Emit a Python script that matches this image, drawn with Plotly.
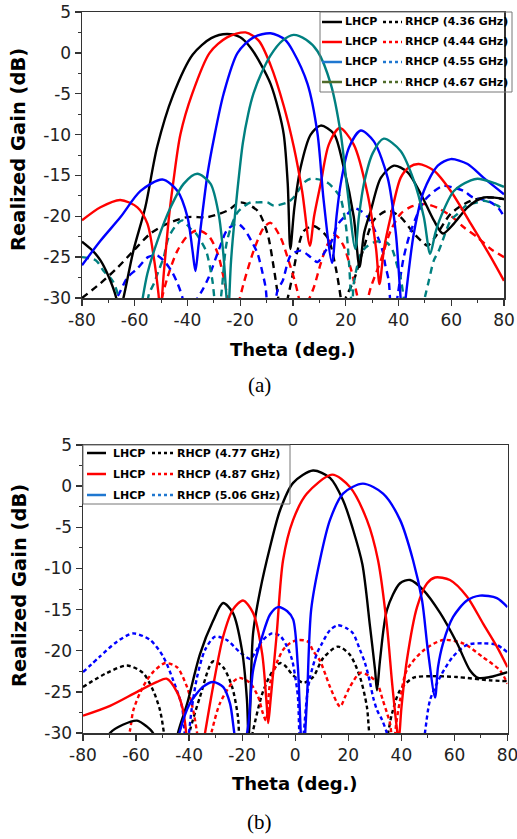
import plotly.graph_objects as go

W, H = 517, 839

# ---------------- (a) data ----------------
th_a_l436 = [-80, -76, -73, -70, -67, -66, -64.3, -60.5, -56, -51.5, -45.5, -38, -31, -25, -20, -16, -12, -8.5, -5.5, -3.5, -2, -1,
             0.5, 2.9, 6.7, 10.5, 15.5, 19.2, 23, 25.2, 27, 29.5, 33.3, 38.3, 43.4, 48.5, 53.4, 56.8, 61, 66.2, 72.3, 80]
g_a_l436 = [-23.1, -24.2, -25.4, -27.3, -30, -32, -30, -24.2, -18.9, -11.5, -5.2, -0.2, 1.8, 2.3, 1.9, 0.6, -1.5, -3.8, -7, -10, -16, -24,
            -19, -14, -10, -8.9, -9.9, -14, -20, -26.2, -22, -19.3, -15.3, -13.8, -14.6, -17.3, -20.5, -22.1, -20.9, -18.9, -17.7, -17.9]

th_a_l444 = [-80, -73, -65.5, -59, -55.2, -52.8, -51, -50.3, -49, -47, -45.3, -42.7, -38.2, -31.6, -25, -18, -13, -8.5, -3.5, 0.3, 3.5, 6.4,
             8, 10.5, 13.6, 17.7, 23, 28.3, 31.5, 32.8, 34.5, 37, 40.8, 44, 47.7, 53.4, 59.8, 67.4, 75, 80]
g_a_l444 = [-20.5, -18.9, -18.0, -18.9, -20.9, -25, -29.5, -32, -27, -20, -15.6, -10, -5, 0, 1.9, 2.5, 1.5, -1.5, -6.5, -11.5, -17, -23.6,
            -20, -16, -11.2, -9.2, -11.2, -17.3, -24, -28.3, -24, -20.1, -15.3, -14, -13.6, -14.4, -16.9, -20.9, -25, -27.9]

th_a_l455 = [-80, -73, -65.4, -57.8, -49.5, -43.8, -40, -38.1, -37, -35.8, -32.4, -30, -26.3, -21, -15, -8.5, -3, 0, 5.5, 9.3, 11.6, 14.8,
             16.5, 18.1, 21.2, 25.7, 30.6, 35.9, 39, 40.8, 41.7, 42.7, 45.8, 49.6, 54.9, 59.8, 66.2, 72.3, 80]
g_a_l455 = [-26, -23, -20.1, -16.9, -15.5, -16.9, -20.1, -24.2, -26.7, -23.5, -14.8, -10.5, -5, 0, 1.9, 2.4, 1.6, 0.2, -3.8, -9.9, -18, -25.7,
            -20, -16, -11.6, -9.5, -10.8, -15.3, -22.1, -30, -33, -30, -22.1, -16.9, -13.8, -13, -13.6, -15.3, -17.3]

th_a_l467 = [-57.5, -55.2, -51.4, -46.4, -41.4, -36.3, -31.3, -28.2, -26.3, -25.2, -24.6, -23.6, -22.9, -21.1, -19, -17, -15, -12, -8.5, -4, 0.2,
             5, 9.3, 14.3, 18.1, 20.7, 23.6, 25, 26.9, 30.2, 34.4, 40.8, 45.8, 49.6, 52, 54, 56, 61, 67.4, 70, 76.1, 80]
g_a_l467 = [-31, -27, -23, -18.9, -16, -14.8, -16, -19.7, -25, -30, -32, -26, -23, -16.9, -11, -7.5, -5, -2.5, -0.3, 1.5, 2.2,
            1.6, 0.2, -3.8, -9.9, -17, -24, -20, -16, -12.3, -10.5, -12, -15.6, -20.1, -24.6, -22, -20.1, -16.9, -15.6, -15.4, -15.9, -16.4]

th_a_r436 = [-80, -73, -66.6, -60.4, -54, -47.6, -40, -32.4, -24.8, -20, -13.5, -9.7, -7.3, -5.8, -4.2, -2, 0, 1.5, 4.1, 7.9, 13.1, 16.2,
             18.1, 18.8, 20, 23, 26.9, 30.6, 35.9, 40.8, 45.8, 49.6, 51, 54, 59.8, 67.4, 75, 80]
g_a_r436 = [-30, -28.2, -26.3, -24.2, -22.1, -20.9, -20.1, -20.1, -19.3, -18.3, -19.3, -22.1, -26.3, -29.5, -33, -30, -27, -24.5, -21.8, -21.2, -22.6, -26.3,
            -30, -32, -30, -27.9, -23.8, -20.5, -19.3, -20.1, -22.1, -23.3, -23.6, -22.5, -19.7, -18.1, -17.7, -17.9]

th_a_r444 = [-52, -47.6, -43.8, -40, -36.2, -32, -28.6, -26.3, -24.8, -23.5, -21, -18.7, -14.9, -11.1, -8.5, -4.7, -2.1, 0.3, 2.2, 3, 5, 7.9,
             10.5, 13, 16, 19, 22, 24.5, 25.5, 27.5, 29.5, 33.3, 37, 40.8, 45, 50, 55, 60, 65, 70, 75, 80]
g_a_r444 = [-33, -27.5, -24.2, -22.4, -21.7, -22.4, -24.5, -27.5, -30, -33, -31, -28.2, -24.2, -21.4, -20.8, -22.6, -25, -27.5, -30, -33, -31, -28.7,
            -25.8, -23.5, -22.3, -23.5, -26.5, -30, -32, -31, -28.7, -25.4, -21.8, -19.7, -18.8, -18.5, -19, -20, -21.4, -22.6, -24, -25]

th_a_r455 = [-69, -66, -62.8, -59, -55, -51.5, -48.3, -45.7, -43.8, -41.9, -41, -38, -34.3, -32, -28, -24.8, -21, -18.7, -15.3, -13.4, -11.5, -10.4,
             -9, -7, -5.8, -3.9, -0.9, 2.9, 6.7, 9.3, 12.4, 14.3, 17, 20.7, 23, 25.5, 28.3, 32.2, 34.1, 35, 36.3, 37.5,
             39, 42, 45, 50, 56.8, 61, 64.8, 68.2, 73.8, 77.6, 80]
g_a_r455 = [-31, -29.5, -27.5, -26.4, -25, -24.8, -25.7, -26.9, -28.2, -30, -33, -31, -29, -27.5, -24, -21.6, -20.9, -21.5, -23.3, -24.6, -27, -28.7,
            -33, -31, -29, -27.9, -24.8, -24.2, -25, -25.6, -24.2, -23.3, -21, -19.7, -19, -19.3, -20.1, -22.6, -24.4, -26, -27.9, -33,
            -31, -25, -21.5, -18, -16.3, -16.5, -16.9, -17.7, -18.1, -18.9, -20]

th_a_r467 = [-80, -74.7, -71.8, -68.4, -66, -64.5, -60, -56, -54.6, -52.7, -51, -49, -47.2, -43.8, -41.9, -38.9, -37, -33, -32, -30.5, -29.5, -28.5,
             -27, -25, -21, -16, -13.4, -9.7, -7.3, -2.1, 0.2, 4.1, 6.7, 11.2, 13.6, 17, 18, 20, 21.3, 22, 22.5, 23, 25.7, 27.6,
             30.6, 34, 35.9, 37.8, 39.7, 40.8, 42, 43, 46, 48.5, 50.3, 51.5, 53.4, 55.3, 59.8, 62.4, 66, 70, 72.3, 77.6, 80]
g_a_r467 = [-25, -25.4, -26.7, -27.9, -30, -33, -34, -32, -29.5, -28.2, -26.7, -25, -22.6, -20.9, -20.5, -21.5, -22, -24.2, -25.4, -28, -31, -33,
            -29, -23, -19.5, -18.3, -18.3, -18.3, -18.7, -18.3, -17.7, -15.9, -15.4, -15.6, -16, -17.2, -17.7, -21, -26, -30, -32, -28.3, -24.6, -23.8,
            -23.2, -23, -23.3, -24.2, -26.3, -27.5, -30, -32, -34, -32, -29.5, -27.9, -25.4, -24.2, -20.5, -19.7, -18.6, -18.3, -18.1, -18.7, -19.3]

# ---------------- (b) data ----------------
th_b_l477 = [-72, -69.8, -65, -59.6, -56, -53.6, -52.5, -50, -46, -44.2, -40.8, -35.9, -31, -27.2, -23.5, -20.1, -18.2, -17.6, -17, -15.9, -13.3,
             -9.5, -5.7, -0.8, 6.7, 13.1, 18, 21.8, 25.3, 28.2, 30.1, 30.8, 32, 34.6, 39.5, 43.3, 48.2, 54.6, 61, 65.9, 68.9, 73.4, 80]
g_b_l477 = [-32, -30, -29, -28.5, -29.2, -30, -31.5, -35, -34, -30, -26.5, -20.4, -16.4, -14.2, -15.4, -19.9, -26, -31, -27, -17.9, -12.8,
            -7.4, -2.9, 0.4, 1.9, 1, -1.7, -5.3, -9.5, -17.1, -22.4, -24.8, -21, -15, -11.8, -11.4, -12.6, -15.4, -19.1, -22.4, -23.3, -23.2, -22.6]

th_b_l487 = [-80, -69.8, -59.6, -52.1, -48.5, -44.6, -42.3, -41.2, -40.5, -37, -34, -31, -27.2, -23.5, -19.7, -15.9, -12.5, -10.8, -10.2, -9.3,
             -7, -4.6, -0.8, 4.4, 13.9, 20.6, 27, 31.2, 34.6, 36.5, 38.4, 39, 40, 42.1, 45.9, 49.7, 52.7, 58.3, 64.7, 70.8, 76, 80]
g_b_l487 = [-27.9, -26.7, -25, -23.8, -23.4, -25, -27.2, -29.7, -32, -36, -30, -24.4, -18.3, -15, -13.9, -15.4, -20.3, -26.4, -28.8, -26,
            -18, -9, -4.1, -0.9, 1.4, -0.1, -4.1, -9, -17.1, -23.9, -29.7, -31, -27, -21.1, -14.7, -11.8, -11.1, -11.4, -13.4, -16.7, -19.5, -22]

th_b_l506 = [-46, -43.4, -39.7, -34.8, -31, -27.2, -24.6, -23.1, -21, -17.8, -15.9, -12.5, -9.5, -6.5, -3, -0.8, 1, 2.8, 4.4, 6, 9.3, 13.1,
             18, 25.5, 33.1, 39.5, 44.4, 47.8, 50, 52.7, 53.8, 55.7, 59.5, 64.7, 69.6, 76, 80]
g_b_l506 = [-34, -29.7, -26.4, -24.4, -23.8, -24.4, -26.4, -29.7, -34, -29.3, -22.4, -18.3, -15.6, -14.7, -15.2, -16.2, -22, -34, -26, -15, -9, -4.1,
            -0.9, 0.3, -0.9, -4.1, -9, -13.9, -20, -25.7, -22, -19.1, -15.9, -13.9, -13.3, -13.6, -14.7]

th_b_r477 = [-80, -71, -63.4, -57.4, -53.6, -51, -49.5, -48.5, -42, -39.7, -35.9, -31, -27.2, -23.8, -21.6, -20.5, -18, -15.9, -12.2, -8.4,
             -5.7, -3.9, -0.8, 3, 6.7, 10.5, 16.1, 20.6, 24.4, 27, 27.8, 29, 32, 35, 36.5, 39.5, 44.4, 50.8, 61, 73.4, 80]
g_b_r477 = [-24.4, -22.7, -21.8, -22.7, -24.8, -27.2, -30, -33, -33, -29.7, -25.6, -21.3, -22, -24.4, -28, -32, -33, -29.7, -25, -22.4,
            -21.5, -21.8, -23, -23.9, -23.2, -20.9, -19.5, -20.5, -23.2, -26.8, -29.7, -33, -35, -30, -27.6, -24.8, -23.3, -23.1, -23.2, -23.6, -23.7]

th_b_r487 = [-64, -62.3, -61, -57.4, -53.6, -49, -44.6, -40.8, -38.5, -37, -36, -33, -31.4, -28.4, -23.5, -21, -17.1, -14, -12.2, -11, -9.5,
             -7, -4.6, -2, 1, 4.8, 6.7, 9.3, 11.5, 13.1, 16.9, 18.8, 20.6, 24.4, 27, 30.8, 33, 34.6, 35.7, 37, 38, 39.5, 42, 48.2,
             55.7, 63.2, 70.8, 77.2, 80]
g_b_r487 = [-31.5, -29.7, -27.2, -24.4, -22.6, -21.5, -22, -24.4, -27.2, -30, -33, -32, -29.7, -26.4, -23.8, -23.3, -23.9, -25.6, -27.6, -28.5, -24,
            -21.5, -19.9, -19.1, -18.7, -18.9, -20, -21.2, -23, -24.4, -26.8, -25.6, -24.4, -22.7, -22.9, -23.9, -26, -27.6, -28.8, -32, -29, -26, -22.4, -20,
            -18.7, -19.1, -20.8, -22.4, -24]

th_b_r506 = [-80, -73.6, -67.2, -61.1, -54.7, -49.8, -46, -42.7, -41, -39, -37, -34, -30.2, -25.8, -20.8, -17, -15.2, -12.5, -8.8, -5.7, -3.1,
             -1.2, 0, 1, 2, 3.2, 4.4, 5.6, 8.2, 10.1, 13.1, 16.1, 19.5, 21.8, 24.4, 26.3, 28.2, 29.3, 30.8, 32.7, 34.5, 36, 42,
             48, 49, 50.8, 54.6, 59.5, 64.7, 70.8, 76, 80]
g_b_r506 = [-22.6, -20.7, -18.9, -17.9, -18.7, -20.7, -23.6, -26.8, -32, -27, -23.2, -19.9, -18.3, -18.7, -20.2, -21, -20.3, -18.8, -17.9, -18.2, -19.5,
            -21.1, -23.2, -25.6, -33, -30, -25.6, -23.2, -20.3, -19.1, -17.5, -16.9, -17.3, -17.9, -19.9, -21.5, -23.9, -25.6, -27.2, -28.4, -30, -33, -36,
            -32, -29.7, -26, -23.2, -20.7, -19.3, -19.1, -19.3, -20.2]

x_ticks = [-80, -60, -40, -20, 0, 20, 40, 60, 80]
x_tick_text = ["-80", "-60", "-40", "-20", "0", "20", "40", "60", "80"]
y_ticks = [-30, -25, -20, -15, -10, -5, 0, 5]
y_tick_text = ["-30", "-25", "-20", "-15", "-10", "-5", "0", "5"]

freq_a = ["4.36", "4.44", "4.55", "4.67"]
freq_b = ["4.77", "4.87", "5.06"]
curve_col_a = ["#000000", "#ff0000", "#0000ff", "#008080"]
curve_col_b = ["#000000", "#ff0000", "#0000ff"]
legend_col_a = ["#000000", "#ff0000", "#1f77d0", "#4f6b2a"]
legend_col_b = ["#000000", "#ff0000", "#1f77d0"]

lh_a = [(th_a_l436, g_a_l436), (th_a_l444, g_a_l444), (th_a_l455, g_a_l455), (th_a_l467, g_a_l467)]
rh_a = [(th_a_r436, g_a_r436), (th_a_r444, g_a_r444), (th_a_r455, g_a_r455), (th_a_r467, g_a_r467)]
lh_b = [(th_b_l477, g_b_l477), (th_b_l487, g_b_l487), (th_b_l506, g_b_l506)]
rh_b = [(th_b_r477, g_b_r477), (th_b_r487, g_b_r487), (th_b_r506, g_b_r506)]

fig = go.Figure()

def add(th, g, col, dash, xa, ya):
    fig.add_trace(go.Scatter(x=th, y=g, mode="lines", xaxis=xa, yaxis=ya, showlegend=False, hoverinfo="skip",
                             line=dict(color=col, width=2.4, dash=dash, shape="spline", smoothing=0.8)))

for (th, g), c in zip(rh_a, curve_col_a):
    add(th, g, c, "7px,5px", "x", "y")
for (th, g), c in zip(lh_a, curve_col_a):
    add(th, g, c, "solid", "x", "y")
for (th, g), c in zip(rh_b, curve_col_b):
    add(th, g, c, "4px,3px", "x2", "y2")
for (th, g), c in zip(lh_b, curve_col_b):
    add(th, g, c, "solid", "x2", "y2")

def px(x):
    return x / W

def py(y):
    return 1 - y / H

axcol = "#333333"
tickfont = dict(family="DejaVu Sans", size=17, color="#222222")

def xax(dom, anchor):
    return dict(domain=dom, anchor=anchor, range=[-80, 80], tickmode="array", tickvals=x_ticks, ticktext=x_tick_text,
                ticks="outside", ticklen=6, tickwidth=1.3, tickcolor=axcol, showline=True, linecolor=axcol, linewidth=1.5,
                mirror=True, showgrid=False, zeroline=False, tickfont=tickfont, automargin=False,
                ticklabeloverflow="allow",
                minor=dict(dtick=10, tick0=-80, ticks="outside", ticklen=3, tickwidth=1, tickcolor=axcol))

def yax(dom, anchor):
    return dict(domain=dom, anchor=anchor, range=[-30, 5], tickmode="array", tickvals=y_ticks, ticktext=y_tick_text,
                ticks="outside", ticklen=6, tickwidth=1.3, tickcolor=axcol, showline=True, linecolor=axcol, linewidth=1.5,
                mirror=True, showgrid=False, zeroline=False, tickfont=tickfont, automargin=False,
                ticklabeloverflow="allow",
                minor=dict(dtick=2.5, tick0=-30, ticks="outside", ticklen=3, tickwidth=1, tickcolor=axcol))

shapes = []
annotations = []
lfont = dict(family="DejaVu Sans", size=11, color="#000000")

def legend(box, rows, freqs, cols, xs):
    x0, y0, x1, y1 = box
    shapes.append(dict(type="rect", xref="paper", yref="paper", x0=px(x0), x1=px(x1), y0=py(y0), y1=py(y1),
                       line=dict(color="#777777", width=1), fillcolor="rgba(255,255,255,0)", layer="above"))
    la, lb, t1, da, db, t2 = xs
    for yy, f, c in zip(rows, freqs, cols):
        shapes.append(dict(type="line", xref="paper", yref="paper", x0=px(la), x1=px(lb), y0=py(yy), y1=py(yy),
                           line=dict(color=c, width=2.5), layer="above"))
        shapes.append(dict(type="line", xref="paper", yref="paper", x0=px(da), x1=px(db), y0=py(yy), y1=py(yy),
                           line=dict(color=c, width=2.5, dash="dot"), layer="above"))
        annotations.append(dict(text="<b>LHCP</b>", x=px(t1), y=py(yy), xref="paper", yref="paper", xanchor="left",
                                yanchor="middle", showarrow=False, font=lfont))
        annotations.append(dict(text="<b>RHCP (%s GHz)</b>" % f, x=px(t2), y=py(yy), xref="paper", yref="paper",
                                xanchor="left", yanchor="middle", showarrow=False, font=lfont))

legend((320, 12, 512, 92), [22, 42, 62, 82], freq_a, legend_col_a, (322, 342, 343, 383, 402, 403))
legend((83, 445, 290, 504), [453, 474, 495], freq_b, legend_col_b, (87, 106, 111, 152, 173, 175))

xtfont = dict(family="DejaVu Sans", size=18, color="#000000")
ytfont = dict(family="DejaVu Sans", size=19.5, color="#000000")
for (x, y) in [(293, 349), (295, 783)]:
    annotations.append(dict(text="<b>Theta (deg.)</b>", x=px(x), y=py(y), xref="paper", yref="paper",
                            showarrow=False, font=xtfont, xanchor="center", yanchor="middle"))
for (x, y) in [(19, 150), (19, 586)]:
    annotations.append(dict(text="<b>Realized Gain (dB)</b>", x=px(x), y=py(y), xref="paper", yref="paper",
                            showarrow=False, font=ytfont, textangle=-90, xanchor="center", yanchor="middle"))
for (t, x, y) in [("(a)", 259, 385), ("(b)", 259, 822)]:
    annotations.append(dict(text=t, x=px(x), y=py(y), xref="paper", yref="paper", showarrow=False,
                            font=dict(family="Liberation Serif", size=21, color="#000000"),
                            xanchor="center", yanchor="middle"))

fig.update_layout(
    width=W, height=H, margin=dict(l=0, r=0, t=0, b=0),
    paper_bgcolor="white", plot_bgcolor="white", showlegend=False, hovermode=False,
    xaxis=xax([px(82), px(504)], "y"),
    yaxis=yax([py(298), py(12)], "x"),
    xaxis2=xax([px(83), px(507.5)], "y2"),
    yaxis2=yax([py(733), py(445)], "x2"),
    shapes=shapes, annotations=annotations,
)

fig.write_html("out.html", config={"displayModeBar": False, "staticPlot": True},
               post_script="document.body.style.margin='0px';document.body.style.padding='0px';"
                           "document.body.style.overflow='hidden';")
